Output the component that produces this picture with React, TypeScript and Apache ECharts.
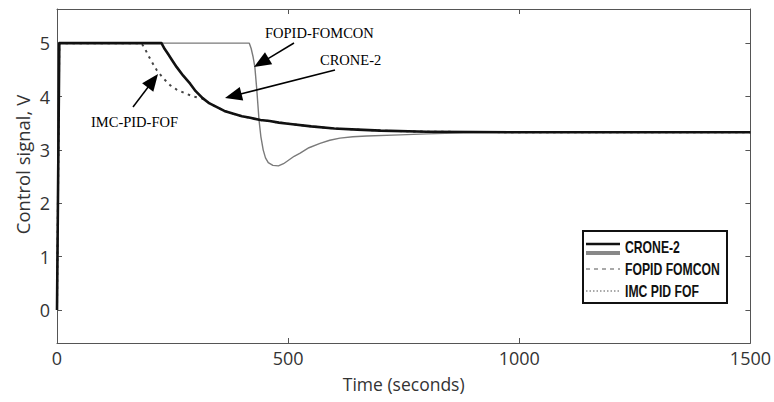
import React, { useEffect, useRef } from "react";
import * as echarts from "echarts";

// Time (s) and control signal (V)
const croneT = [0, 5, 226, 233, 240, 249, 259, 273, 288, 300, 315, 330, 346, 362, 380, 400, 418, 440, 460, 480, 500, 550, 600, 650, 700, 800, 900, 1000, 1500];
const croneV = [0, 5, 5, 4.89, 4.8, 4.68, 4.55, 4.39, 4.24, 4.1, 3.97, 3.87, 3.8, 3.73, 3.68, 3.63, 3.6, 3.56, 3.54, 3.51, 3.49, 3.44, 3.4, 3.38, 3.36, 3.34, 3.335, 3.33, 3.33];

const fopidT = [0, 5, 416, 420, 424, 428, 432, 437, 441, 446, 451, 457, 467, 479, 490, 500, 513, 526, 545, 569, 590, 612, 640, 670, 742, 800, 880, 1000, 1500];
const fopidV = [0, 5, 5, 4.9, 4.75, 4.55, 4.15, 3.56, 3.25, 3.0, 2.85, 2.76, 2.71, 2.7, 2.74, 2.8, 2.88, 2.94, 3.04, 3.12, 3.18, 3.22, 3.245, 3.26, 3.28, 3.3, 3.32, 3.33, 3.33];

const imcT = [0, 5, 182, 189, 195, 205, 216, 230, 245, 259, 277, 295, 315, 330, 346, 362, 380, 400, 418, 440, 460, 480, 500, 550, 600, 650, 700, 800, 900, 1000, 1500];
const imcV = [0, 5, 5, 4.92, 4.81, 4.65, 4.49, 4.34, 4.21, 4.13, 4.06, 4.0, 3.96, 3.87, 3.8, 3.73, 3.68, 3.63, 3.6, 3.56, 3.54, 3.51, 3.49, 3.44, 3.4, 3.38, 3.36, 3.34, 3.335, 3.33, 3.33];

const yTicks = [0, 1, 2, 3, 4, 5];
const xMin = 0;
const xMax = 1500;
const xStep = 500;
const yMin = -0.62;
const yMax = 5.64;

const legendLabels = ["CRONE-2", "FOPID FOMCON", "IMC PID FOF"];
const annotations = ["FOPID-FOMCON", "CRONE-2", "IMC-PID-FOF"];

function zip(t: number[], v: number[]) {
  return t.map((x, i) => [x, v[i]]);
}

function arrow(x1: number, y1: number, x2: number, y2: number, head = 17, half = 7) {
  const dx = x2 - x1;
  const dy = y2 - y1;
  const L = Math.hypot(dx, dy);
  const ux = dx / L;
  const uy = dy / L;
  const bx = x2 - ux * head;
  const by = y2 - uy * head;
  const px = -uy;
  const py = ux;
  return [
    { type: "line", z: 100, shape: { x1, y1, x2: bx + ux * 2, y2: by + uy * 2 }, style: { stroke: "#000", lineWidth: 1.5 } },
    {
      type: "polygon",
      z: 100,
      shape: { points: [[x2, y2], [bx + px * half, by + py * half], [bx - px * half, by - py * half]] },
      style: { fill: "#000" },
    },
  ];
}

const labelFont = { color: "#333", fontSize: 18, fontFamily: "Open Sans" };
const frameLine = { show: true, onZero: false, lineStyle: { color: "#555", width: 1 } };

export default function App() {
  const ref = useRef<HTMLDivElement>(null);
  useEffect(() => {
    if (!ref.current) return;
    const chart = echarts.init(ref.current, null, { renderer: "svg" });
    const annStyle = { fill: "#000", fontSize: 14.5, fontFamily: "Liberation Serif", verticalAlign: "middle", align: "left" };
    const legText = (text: string, y: number) => ({
      type: "text",
      z: 101,
      x: 625,
      y,
      scaleX: 0.74,
      style: { text, fill: "#111", fontSize: 16.5, fontWeight: "bold", fontFamily: "Liberation Sans", verticalAlign: "middle", align: "left" },
    });
    const lineCommon = { type: "line", showSymbol: false, lineStyle: {} };
    chart.setOption({
      animation: false,
      backgroundColor: "#fff",
      grid: { left: 57, right: 23.5, top: 9, bottom: 59, containLabel: false },
      xAxis: [
        {
          type: "value",
          min: xMin,
          max: xMax,
          interval: xStep,
          position: "bottom",
          axisLine: frameLine,
          axisTick: { inside: true, length: 5, lineStyle: { color: "#555" } },
          axisLabel: { ...labelFont, margin: 6, formatter: (v: number) => String(v) },
          splitLine: { show: false },
          name: "Time (seconds)",
          nameLocation: "middle",
          nameGap: 32,
          nameTextStyle: { ...labelFont, fontSize: 17.5 },
        },
        {
          type: "value",
          min: xMin,
          max: xMax,
          interval: xStep,
          position: "top",
          axisLine: frameLine,
          axisTick: { inside: true, length: 5, lineStyle: { color: "#555" } },
          axisLabel: { show: false },
          splitLine: { show: false },
        },
      ],
      yAxis: [
        {
          type: "value",
          min: yMin,
          max: yMax,
          position: "left",
          axisLine: frameLine,
          axisTick: { show: true, inside: true, length: 5, customValues: yTicks, lineStyle: { color: "#555" } },
          axisLabel: { ...labelFont, margin: 7, customValues: yTicks },
          splitLine: { show: false },
        },
        {
          type: "value",
          min: yMin,
          max: yMax,
          position: "right",
          axisLine: frameLine,
          axisTick: { show: true, inside: true, length: 5, customValues: yTicks, lineStyle: { color: "#555" } },
          axisLabel: { show: false },
          splitLine: { show: false },
        },
      ],
      series: [
        {
          ...lineCommon,
          name: "FOPID FOMCON",
          data: zip(fopidT, fopidV),
          lineStyle: { color: "#7a7a7a", width: 1.4, join: "round" },
          z: 2,
        },
        {
          ...lineCommon,
          name: "IMC PID FOF",
          data: zip(imcT, imcV),
          lineStyle: { color: "#444", width: 2, type: [2.5, 4.5] },
          z: 3,
        },
        {
          ...lineCommon,
          name: "CRONE-2",
          data: zip(croneT, croneV),
          lineStyle: { color: "#111", width: 2.6, join: "round" },
          z: 4,
        },
      ],
      graphic: [
        {
          type: "text",
          x: 22,
          y: 164.5,
          rotation: Math.PI / 2,
          style: { text: "Control signal, V", fill: "#333", fontSize: 18.5, fontFamily: "Open Sans", align: "center", verticalAlign: "middle" },
        },
        { type: "text", z: 100, x: 265, y: 33, style: { text: annotations[0], ...annStyle } },
        { type: "text", z: 100, x: 320, y: 60, style: { text: annotations[1], ...annStyle } },
        { type: "text", z: 100, x: 91, y: 122, style: { text: annotations[2], ...annStyle } },
        ...arrow(294, 43, 254, 67),
        ...arrow(335, 70, 225, 98),
        ...arrow(133, 107, 158, 74),
        { type: "rect", z: 99, shape: { x: 583, y: 231, width: 144, height: 72 }, style: { fill: "#fff", stroke: "#111", lineWidth: 2 } },
        { type: "line", z: 101, shape: { x1: 586, y1: 244, x2: 620, y2: 244 }, style: { stroke: "#111", lineWidth: 2.5 } },
        { type: "line", z: 101, shape: { x1: 586, y1: 253, x2: 620, y2: 253 }, style: { stroke: "#888", lineWidth: 4 } },
        { type: "line", z: 101, shape: { x1: 586, y1: 269, x2: 620, y2: 269 }, style: { stroke: "#555", lineWidth: 1.2, lineDash: [4, 4] } },
        { type: "line", z: 101, shape: { x1: 586, y1: 291, x2: 620, y2: 291 }, style: { stroke: "#555", lineWidth: 1.2, lineDash: [1.5, 2] } },
        legText(legendLabels[0], 247),
        legText(legendLabels[1], 269),
        legText(legendLabels[2], 291),
      ],
    });
    return () => chart.dispose();
  }, []);
  return <div ref={ref} style={{ position: "fixed", left: 0, top: 0, width: 774, height: 402 }} />;
}
